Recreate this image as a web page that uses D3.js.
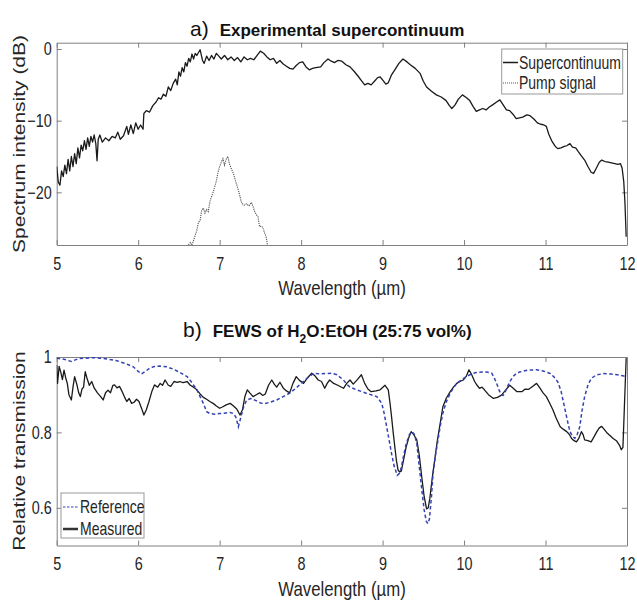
<!DOCTYPE html>
<html><head><meta charset="utf-8">
<script src="https://cdn.jsdelivr.net/npm/d3@7"></script>
<style>body{margin:0;background:#fff}svg{display:block}text{font-family:"Liberation Sans",Arial,sans-serif}</style>
</head><body>
<svg id="c" width="637" height="601"></svg>
<script>
// ---------- DATA ----------
const xTicks = [5,6,7,8,9,10,11,12];
const topYTicks = [-20,-10,0];
const botYTicks = [0.6,0.8,1];

const scWavelength = [5.00,5.02,5.04,5.06,5.08,5.10,5.12,5.14,5.16,5.18,5.20,5.22,5.24,5.26,5.28,5.30,5.32,5.34,5.36,5.38,5.40,5.42,5.44,5.46,5.48,5.495,5.51,5.53,5.56,5.60,5.64,5.68,5.72,5.75,5.78,5.82,5.86,5.88,5.91,5.94,5.97,6.00,6.03,6.06,6.07,6.10,6.14,6.18,6.22,6.25,6.28,6.31,6.34,6.37,6.40,6.43,6.46,6.48,6.50,6.52,6.54,6.56,6.58,6.60,6.62,6.64,6.66,6.68,6.70,6.72,6.76,6.79,6.81,6.84,6.87,6.90,6.93,6.96,6.99,7.02,7.06,7.10,7.14,7.18,7.22,7.26,7.30,7.34,7.38,7.42,7.46,7.50,7.54,7.58,7.62,7.66,7.70,7.74,7.78,7.82,7.86,7.90,7.94,7.98,8.02,8.06,8.10,8.14,8.18,8.24,8.28,8.33,8.37,8.41,8.45,8.50,8.55,8.60,8.65,8.70,8.74,8.78,8.82,8.86,8.90,8.94,8.97,9.00,9.04,9.07,9.11,9.15,9.20,9.25,9.30,9.34,9.40,9.46,9.50,9.54,9.60,9.66,9.72,9.78,9.82,9.85,9.89,9.93,9.98,10.03,10.07,10.11,10.15,10.19,10.23,10.27,10.31,10.35,10.40,10.44,10.48,10.52,10.56,10.60,10.64,10.68,10.72,10.77,10.81,10.86,10.90,10.94,10.98,11.01,11.04,11.08,11.12,11.15,11.19,11.23,11.26,11.30,11.33,11.37,11.40,11.44,11.48,11.52,11.56,11.59,11.62,11.66,11.69,11.73,11.77,11.81,11.85,11.89,11.92,11.94,11.96,11.975,11.99];
const scIntensity = [-16.4,-18.6,-19.0,-17.0,-17.8,-16.2,-17.4,-15.4,-17.0,-15.0,-16.4,-14.6,-16.0,-13.8,-15.2,-13.4,-14.2,-12.8,-14.0,-12.4,-13.6,-12.2,-13.0,-12.0,-13.2,-15.6,-12.6,-12.0,-13.0,-12.4,-12.8,-12.2,-12.4,-11.6,-12.6,-12.1,-10.8,-11.9,-10.6,-11.8,-10.3,-11.2,-10.6,-11.2,-9.0,-8.6,-8.8,-7.9,-7.4,-6.8,-7.0,-6.3,-6.6,-5.3,-5.8,-4.8,-4.2,-5.0,-3.2,-3.8,-2.6,-3.2,-1.9,-2.4,-1.3,-1.8,-0.7,-1.4,-0.6,-0.9,-0.1,-1.6,-2.0,-1.0,-1.6,-0.9,-1.4,-0.6,-1.0,-1.4,-0.9,-1.5,-1.1,-1.6,-1.2,-1.8,-1.1,-1.5,-1.3,-1.5,-0.9,-0.3,-0.6,-1.1,-1.5,-1.3,-2.0,-1.6,-2.1,-2.4,-2.7,-2.8,-2.3,-1.9,-1.8,-2.5,-2.9,-2.7,-2.6,-2.5,-1.9,-1.4,-1.7,-1.9,-1.6,-1.7,-2.2,-2.5,-3.1,-3.8,-4.4,-5.0,-4.8,-5.0,-4.5,-4.0,-3.9,-4.3,-4.9,-4.7,-3.6,-2.9,-2.0,-1.4,-1.8,-2.2,-2.7,-3.4,-4.5,-5.3,-5.9,-6.4,-6.7,-7.2,-7.9,-8.3,-7.8,-7.0,-6.4,-6.8,-7.2,-8.0,-8.7,-8.5,-8.3,-8.5,-8.1,-7.8,-7.4,-7.1,-7.8,-8.5,-8.6,-9.1,-9.7,-9.6,-9.5,-9.2,-9.3,-9.8,-10.3,-10.5,-10.6,-10.8,-11.9,-12.9,-13.6,-13.9,-13.8,-13.6,-13.5,-13.2,-13.7,-13.8,-14.3,-14.9,-15.5,-16.4,-17.2,-17.35,-16.7,-15.8,-15.5,-15.7,-15.8,-15.9,-16.0,-16.1,-16.0,-16.6,-18.5,-21.5,-26.2];

const pumpWavelength = [6.60,6.64,6.66,6.70,6.72,6.74,6.76,6.78,6.80,6.82,6.84,6.86,6.88,6.90,6.92,6.94,6.96,6.98,7.00,7.02,7.04,7.06,7.08,7.10,7.12,7.14,7.17,7.20,7.23,7.25,7.27,7.30,7.33,7.36,7.39,7.41,7.43,7.45,7.47,7.49,7.51,7.53,7.55,7.57,7.59];
const pumpIntensity = [-27.6,-27.0,-27.4,-26.0,-25.3,-24.2,-23.9,-22.5,-22.2,-22.9,-22.4,-22.7,-21.3,-20.6,-20.0,-19.2,-18.4,-17.2,-16.4,-15.8,-15.3,-16.2,-15.4,-15.0,-16.0,-16.6,-17.4,-18.6,-19.7,-20.6,-21.5,-21.8,-21.6,-21.9,-21.4,-22.0,-22.7,-23.1,-23.4,-24.8,-24.7,-24.9,-25.6,-26.2,-27.5];

const measWavelength = [5.00,5.01,5.03,5.05,5.07,5.09,5.11,5.13,5.15,5.18,5.20,5.22,5.25,5.27,5.29,5.31,5.33,5.35,5.37,5.40,5.43,5.46,5.50,5.54,5.57,5.60,5.63,5.66,5.69,5.71,5.74,5.77,5.80,5.83,5.86,5.89,5.92,5.95,5.98,6.01,6.04,6.07,6.10,6.13,6.17,6.20,6.24,6.27,6.30,6.33,6.37,6.40,6.44,6.48,6.51,6.55,6.60,6.64,6.68,6.72,6.76,6.80,6.84,6.88,6.92,6.96,7.00,7.04,7.08,7.13,7.17,7.21,7.25,7.28,7.31,7.34,7.37,7.41,7.45,7.49,7.53,7.56,7.60,7.64,7.67,7.70,7.74,7.78,7.82,7.86,7.90,7.94,7.98,8.03,8.08,8.13,8.17,8.21,8.25,8.29,8.32,8.35,8.40,8.45,8.52,8.56,8.60,8.64,8.69,8.74,8.78,8.82,8.86,8.92,8.97,9.03,9.07,9.09,9.11,9.13,9.15,9.17,9.19,9.21,9.23,9.26,9.29,9.32,9.35,9.38,9.42,9.45,9.48,9.51,9.54,9.56,9.58,9.61,9.64,9.67,9.70,9.74,9.78,9.83,9.87,9.91,9.95,9.99,10.03,10.06,10.09,10.13,10.16,10.19,10.22,10.25,10.30,10.36,10.41,10.46,10.51,10.56,10.60,10.65,10.71,10.75,10.79,10.84,10.89,10.93,10.97,11.01,11.05,11.09,11.13,11.18,11.22,11.26,11.29,11.32,11.35,11.38,11.41,11.44,11.46,11.48,11.52,11.56,11.60,11.63,11.66,11.69,11.72,11.75,11.79,11.83,11.87,11.91,11.93,11.95,11.97,11.99];
const measTransmission = [0.979,0.930,0.975,0.960,0.940,0.965,0.945,0.930,0.900,0.886,0.920,0.948,0.925,0.905,0.895,0.915,0.920,0.961,0.945,0.925,0.935,0.918,0.905,0.895,0.886,0.905,0.912,0.905,0.925,0.926,0.918,0.922,0.910,0.895,0.882,0.890,0.877,0.880,0.888,0.882,0.865,0.846,0.860,0.880,0.910,0.926,0.920,0.930,0.925,0.939,0.925,0.922,0.935,0.933,0.935,0.932,0.935,0.925,0.920,0.913,0.902,0.893,0.888,0.882,0.877,0.870,0.864,0.868,0.873,0.877,0.870,0.862,0.846,0.860,0.895,0.913,0.905,0.895,0.900,0.905,0.898,0.902,0.925,0.939,0.928,0.920,0.933,0.918,0.910,0.905,0.930,0.948,0.938,0.930,0.945,0.957,0.950,0.939,0.935,0.917,0.930,0.939,0.930,0.925,0.917,0.930,0.939,0.928,0.940,0.953,0.930,0.915,0.908,0.910,0.913,0.925,0.913,0.880,0.842,0.800,0.762,0.725,0.700,0.695,0.697,0.730,0.762,0.785,0.802,0.795,0.780,0.740,0.683,0.630,0.597,0.600,0.625,0.680,0.727,0.775,0.815,0.868,0.890,0.908,0.920,0.930,0.935,0.939,0.950,0.966,0.955,0.935,0.925,0.917,0.920,0.913,0.900,0.890,0.893,0.899,0.912,0.925,0.918,0.908,0.908,0.915,0.914,0.922,0.930,0.918,0.905,0.895,0.878,0.860,0.838,0.815,0.808,0.802,0.795,0.784,0.778,0.775,0.785,0.802,0.795,0.780,0.778,0.775,0.790,0.802,0.812,0.816,0.808,0.800,0.792,0.784,0.778,0.765,0.754,0.760,0.880,0.997];

const refWavelength = [5.00,5.09,5.18,5.27,5.37,5.45,5.53,5.64,5.74,5.85,5.94,6.00,6.04,6.09,6.14,6.20,6.27,6.35,6.43,6.52,6.60,6.66,6.72,6.76,6.80,6.84,6.88,6.94,7.00,7.06,7.13,7.17,7.20,7.23,7.26,7.29,7.33,7.38,7.44,7.50,7.56,7.62,7.70,7.78,7.86,7.94,8.00,8.08,8.16,8.23,8.30,8.37,8.44,8.52,8.56,8.60,8.68,8.80,8.93,8.99,9.02,9.05,9.08,9.11,9.14,9.18,9.21,9.23,9.26,9.29,9.33,9.36,9.39,9.42,9.45,9.48,9.51,9.535,9.555,9.575,9.60,9.62,9.65,9.68,9.71,9.74,9.78,9.83,9.87,9.91,9.97,10.03,10.09,10.15,10.22,10.28,10.34,10.37,10.40,10.43,10.46,10.48,10.50,10.53,10.56,10.60,10.64,10.68,10.78,10.89,10.97,11.05,11.10,11.15,11.19,11.22,11.24,11.27,11.30,11.33,11.36,11.39,11.42,11.45,11.48,11.52,11.56,11.62,11.71,11.80,11.88,11.95,12.00];
const refTransmission = [0.997,0.994,0.988,0.996,0.997,0.998,0.997,0.994,0.990,0.982,0.974,0.962,0.955,0.962,0.970,0.975,0.976,0.974,0.968,0.958,0.948,0.932,0.913,0.895,0.877,0.855,0.850,0.848,0.850,0.851,0.853,0.850,0.840,0.815,0.840,0.865,0.885,0.890,0.885,0.878,0.877,0.880,0.886,0.895,0.904,0.918,0.930,0.945,0.957,0.955,0.956,0.957,0.953,0.939,0.928,0.920,0.913,0.904,0.895,0.877,0.850,0.815,0.780,0.744,0.712,0.686,0.692,0.708,0.740,0.770,0.795,0.802,0.795,0.770,0.710,0.650,0.595,0.565,0.558,0.570,0.630,0.692,0.740,0.780,0.820,0.851,0.880,0.904,0.918,0.930,0.940,0.948,0.955,0.959,0.960,0.960,0.957,0.945,0.930,0.912,0.899,0.898,0.905,0.920,0.934,0.948,0.956,0.960,0.965,0.966,0.963,0.957,0.948,0.934,0.910,0.880,0.860,0.830,0.802,0.790,0.784,0.795,0.815,0.860,0.895,0.925,0.943,0.952,0.956,0.955,0.953,0.950,0.948];

// ---------- DRAW ----------
const svg = d3.select("#c");
const SX = 0.8;           // horizontal squash seen in the picture
const axisCol = "#808080", labCol = "#262626";
const x0 = 56.7, x1 = 627;

function panel(top, bottom, yDomain, yTicks, yFmt, clipId){
  const x = d3.scaleLinear().domain([5,12]).range([x0,x1]);
  const y = d3.scaleLinear().domain(yDomain).range([bottom,top]);
  const g = svg.append("g");
  g.append("defs").append("clipPath").attr("id",clipId)
    .append("rect").attr("x",x0).attr("y",top).attr("width",x1-x0).attr("height",bottom-top);
  const styleAxis = a => { a.select(".domain").attr("stroke",axisCol);
    a.selectAll(".tick line").attr("stroke",axisCol); };
  const gb = g.append("g").attr("transform",`translate(0,${bottom})`)
    .call(d3.axisBottom(x).tickValues(xTicks).tickSize(-5).tickSizeOuter(0).tickPadding(12).tickFormat(d3.format("d")));
  styleAxis(gb);
  gb.selectAll("text").attr("font-size",18).attr("fill",labCol)
    .attr("font-family","'Liberation Sans',Arial,sans-serif").attr("transform",`scale(${SX},1)`);
  const gt = g.append("g").attr("transform",`translate(0,${top})`)
    .call(d3.axisTop(x).tickValues(xTicks).tickSize(-5).tickSizeOuter(0).tickFormat(""));
  styleAxis(gt);
  const gl = g.append("g").attr("transform",`translate(${x0},0)`)
    .call(d3.axisLeft(y).tickValues(yTicks).tickSize(-5).tickSizeOuter(0).tickPadding(0).tickFormat(yFmt));
  styleAxis(gl);
  gl.selectAll("text").attr("font-size",18).attr("fill",labCol).attr("x",-5/SX)
    .attr("font-family","'Liberation Sans',Arial,sans-serif").attr("transform",`scale(${SX},1)`);
  const gr = g.append("g").attr("transform",`translate(${x1},0)`)
    .call(d3.axisRight(y).tickValues(yTicks).tickSize(-5).tickSizeOuter(0).tickFormat(""));
  styleAxis(gr);
  const plot = g.append("g").attr("clip-path",`url(#${clipId})`);
  return {x,y,g,plot};
}

function hText(x,y,str,size,opts={}){
  const t = svg.append("text").attr("transform",`translate(${x},${y}) scale(${opts.sx??SX},1)`)
    .attr("font-size",size).attr("fill",opts.fill||labCol)
    .attr("text-anchor",opts.anchor||"start").attr("dominant-baseline","central").text(str);
  return t;
}
function vText(x,y,str,size){
  svg.append("text").attr("transform",`translate(${x},${y}) rotate(-90) scale(1,${SX})`)
    .attr("font-size",size).attr("fill",labCol).attr("text-anchor","middle")
    .attr("dominant-baseline","central").text(str);
}

// ----- panel a -----
const A = panel(42.7, 245, [-27.35, 0.88], topYTicks, d3.format("d"), "clipA");
const lineA = d3.line().x(d=>A.x(d[0])).y(d=>A.y(d[1]));
A.plot.append("path").datum(d3.zip(pumpWavelength,pumpIntensity)).attr("d",lineA)
  .attr("fill","none").attr("stroke","#555").attr("stroke-width",1.1).attr("stroke-dasharray","1.2,1");
A.plot.append("path").datum(d3.zip(scWavelength,scIntensity)).attr("d",lineA)
  .attr("fill","none").attr("stroke","#1a1a1a").attr("stroke-width",1.3).attr("stroke-linejoin","round");

// legend a
svg.append("rect").attr("x",501.7).attr("y",49).attr("width",121).attr("height",45)
  .attr("fill","#fff").attr("stroke","#999").attr("stroke-width",1);
svg.append("line").attr("x1",503).attr("x2",518).attr("y1",62.5).attr("y2",62.5).attr("stroke","#1a1a1a").attr("stroke-width",1.5);
svg.append("line").attr("x1",503).attr("x2",518).attr("y1",83).attr("y2",83).attr("stroke","#555").attr("stroke-width",1).attr("stroke-dasharray","1,1");
hText(519,62.5,"Supercontinuum",17.5);
hText(519,83,"Pump signal",17.5);

// labels a
vText(19,144,"Spectrum intensity (dB)",21);
hText(342,288,"Wavelength (µm)",20,{anchor:"middle",sx:0.84});
const ta = svg.append("text").attr("x",190).attr("y",36).attr("fill","#111");
ta.append("tspan").attr("font-size",21).text("a)");
ta.append("tspan").attr("dx",11).attr("font-size",17).attr("font-weight","bold").text("Experimental supercontinuum");

// ----- panel b -----
const B = panel(357, 545.5, [0.5, 1.0], botYTicks, d=> d===1?"1":d3.format(".1f")(d), "clipB");
const lineB = d3.line().x(d=>B.x(d[0])).y(d=>B.y(d[1]));
B.plot.append("path").datum(d3.zip(measWavelength,measTransmission)).attr("d",lineB)
  .attr("fill","none").attr("stroke","#1a1a1a").attr("stroke-width",1.3).attr("stroke-linejoin","round");
B.plot.append("path").datum(d3.zip(refWavelength,refTransmission)).attr("d",lineB)
  .attr("fill","none").attr("stroke","#3442b4").attr("stroke-width",1.5).attr("stroke-dasharray","3.5,2.5");

// legend b
svg.append("rect").attr("x",61).attr("y",493).attr("width",83).attr("height",45)
  .attr("fill","#fff").attr("stroke","#999").attr("stroke-width",1);
svg.append("line").attr("x1",63).attr("x2",78).attr("y1",507).attr("y2",507).attr("stroke","#3442b4").attr("stroke-width",1).attr("stroke-dasharray","2.5,1.5");
svg.append("line").attr("x1",63).attr("x2",78).attr("y1",529).attr("y2",529).attr("stroke","#333").attr("stroke-width",2.5);
hText(80,507,"Reference",17.5);
hText(80,529,"Measured",17.5);

vText(19,451,"Relative transmission",21);
hText(342,589,"Wavelength (µm)",20,{anchor:"middle",sx:0.84});
const tb = svg.append("text").attr("x",183).attr("y",337).attr("fill","#111");
tb.append("tspan").attr("font-size",21).text("b)");
tb.append("tspan").attr("dx",11).attr("font-size",17).attr("font-weight","bold").text("FEWS of H");
tb.append("tspan").attr("dy",6).attr("font-size",12).attr("font-weight","bold").text("2");
tb.append("tspan").attr("dy",-6).attr("font-size",17).attr("font-weight","bold").text("O:EtOH (25:75 vol%)");
</script>
</body></html>
